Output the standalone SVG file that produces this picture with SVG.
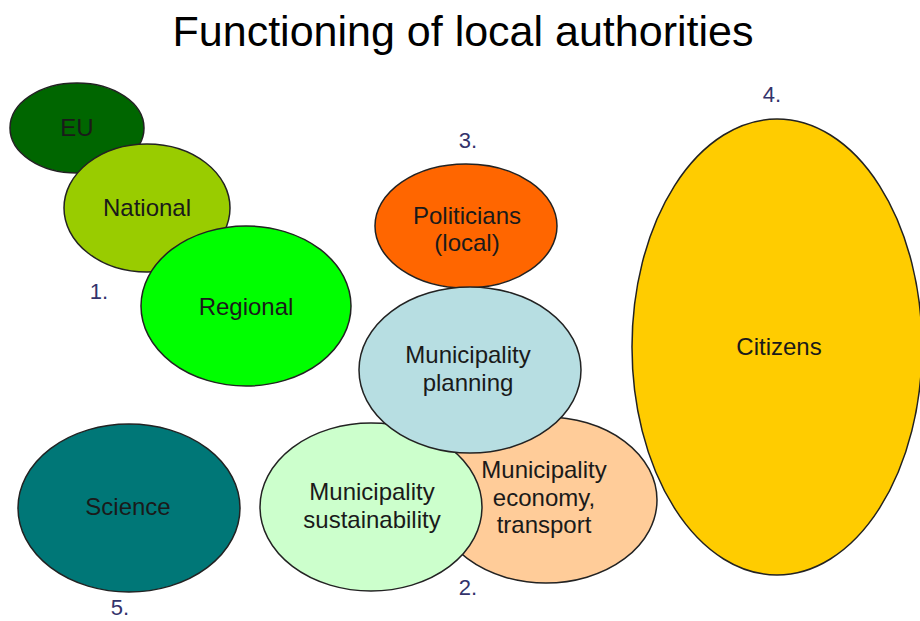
<svg xmlns="http://www.w3.org/2000/svg" width="920" height="621" viewBox="0 0 920 621">
  <style>
    .blob { stroke: #222; stroke-width: 1.5; }
    .lbl { font-family: "Liberation Sans", Arial, sans-serif; font-size: 24px; fill: #1a1a1a; text-anchor: middle; }
    .num { font-family: "Liberation Sans", Arial, sans-serif; font-size: 22px; fill: #33336b; text-anchor: middle; }
    .title { font-family: "Liberation Sans", Arial, sans-serif; font-size: 43px; fill: #000; text-anchor: middle; }
  </style>
  <rect width="920" height="621" fill="#fff"/>
  <text class="title" x="463" y="46">Functioning of local authorities</text>

  <!-- government levels -->
  <g id="eu">
    <ellipse class="blob" cx="77" cy="128" rx="67" ry="45" fill="#006600"/>
    <text class="lbl" x="77" y="136">EU</text>
  </g>
  <g id="national">
    <ellipse class="blob" cx="147" cy="208" rx="83" ry="64" fill="#99cc00"/>
    <text class="lbl" x="147" y="216">National</text>
  </g>
  <g id="regional">
    <ellipse class="blob" cx="246" cy="306" rx="105" ry="80" fill="#00ff00"/>
    <text class="lbl" x="246" y="315">Regional</text>
  </g>

  <!-- local bodies -->
  <g id="politicians">
    <ellipse class="blob" cx="466" cy="226" rx="91" ry="62" fill="#ff6600"/>
    <text class="lbl" x="467" y="224">Politicians</text>
    <text class="lbl" x="467" y="251">(local)</text>
  </g>
  <g id="economy">
    <ellipse class="blob" cx="546" cy="500" rx="111" ry="83" fill="#ffcc99"/>
    <text class="lbl" x="544" y="478">Municipality</text>
    <text class="lbl" x="544" y="506">economy,</text>
    <text class="lbl" x="544" y="533">transport</text>
  </g>
  <g id="sustainability">
    <ellipse class="blob" cx="371" cy="507" rx="111" ry="84" fill="#ccffcc"/>
    <text class="lbl" x="372" y="500">Municipality</text>
    <text class="lbl" x="372" y="528">sustainability</text>
  </g>
  <g id="planning">
    <ellipse class="blob" cx="470" cy="370" rx="111" ry="83" fill="#b7dee2"/>
    <text class="lbl" x="468" y="363">Municipality</text>
    <text class="lbl" x="468" y="391">planning</text>
  </g>

  <g id="science">
    <ellipse class="blob" cx="129" cy="508" rx="111" ry="84" fill="#007777"/>
    <text class="lbl" x="128" y="515">Science</text>
  </g>
  <g id="citizens">
    <ellipse class="blob" cx="777" cy="347" rx="145" ry="228" fill="#ffcc00"/>
    <text class="lbl" x="779" y="355">Citizens</text>
  </g>

  <!-- group numbers -->
  <g id="numbers">
    <text class="num" x="99" y="299">1.</text>
    <text class="num" x="468" y="595">2.</text>
    <text class="num" x="468" y="148">3.</text>
    <text class="num" x="772" y="102">4.</text>
    <text class="num" x="120" y="615">5.</text>
  </g>

  <g id="connectors"/>
</svg>
